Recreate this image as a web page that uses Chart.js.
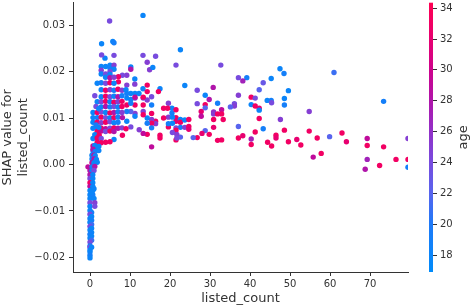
<!DOCTYPE html>
<html>
<head>
<meta charset="utf-8">
<script src="https://cdn.jsdelivr.net/npm/chart.js@4.4.0/dist/chart.umd.min.js"></script>
<style>
  html, body { margin: 0; padding: 0; background: #fff; }
</style>
</head>
<body>
<canvas id="shapChart" width="472" height="307"></canvas>
<script>
        // Data
        const listedCount = [
            22.6, 21.5, 32.7, 47.5, 48.5, 23.7, 37.1, 39.2, 38.2, 43.3,
            45.3, 49.6, 42.3, 26.8, 30.8, 28.8, 37.1, 29.8, 26.8, 31.9,
            40.3, 41.3, 44.3, 45.3, 45.4, 48.6, 48.6, 40.3, 41.3, 42.3,
            42.3, 36.1, 36.1, 35.1, 28.8, 28.8, 27.8, 27.8, 30.9, 30.9,
            31.9, 32.9, 32.9, 33.3, 30.9, 30.9, 28.8, 29.8, 28.0, 26.8,
            25.8, 31.9, 32.9, 37.1, 37.1, 38.2, 40.3, 40.3, 41.3, 43.3,
            42.3, 44.4, 45.4, 46.5, 46.5, 48.6, 47.6, 49.6, 61.0, 73.4,
            54.8, 51.7, 52.7, 54.8, 56.8, 57.8, 55.8, 59.9, 63.0, 64.1,
            69.3, 69.3, 69.3, 68.8, 72.4, 73.4, 76.5, 79.5, 79.5, 79.5,
            20.5, 20.5, 21.5, 21.5, 21.5, 22.6, 22.6, 23.7, 24.7, 22.6,
            23.7, 24.7, 24.7, 21.5, 21.5, 21.5, 22.6, 19.6, 19.4, 18.4,
            19.6, 18.4, 20.6, 19.6, 19.6, 20.6, 20.6, 21.7, 21.7, 17.5,
            17.5, 15.4, 16.4, 16.4, 15.4, 15.4, 15.4, 14.3, 14.3, 14.3,
            13.3, 12.3, 10.2, 9.2, 15.4, 13.3, 13.3, 11.25, 11.25, 10.2,
            9.2, 9.2, 15.4, 15.4, 14.3, 13.3, 13.3, 11.25, 11.25, 10.2,
            10.2, 9.2, 4.9, 13.25, 2.9, 5.7, 6.0, 3.75, 2.9, 6.0,
            13.25, 16.4, 14.3, 14.9, 15.7, 10.2, 10.2, 9.2, 8.1, 7.1,
            7.1, 11.2, 11.2, 14.3, 13.25, 14.3, 17.5, 17.1, 9.2, 11.25,
            12.25, 10.2, 9.2, 11.25, 13.3, 2.8, 3.9, 5.0, 5.0, 6.0,
            6.0, 2.8, 5.0, 2.8, 3.9, 5.0, 3.9, 5.0, 6.0, 1.8,
            2.8, 3.9, 5.0, 6.0, 2.8, 3.9, 5.0, 6.0, 7.0, 8.0,
            9.0, 1.2, 2.8, 3.9, 5.0, 6.0, 7.0, 8.0, 1.8, 2.8,
            3.9, 5.0, 6.0, 7.0, 8.0, 1.5, 2.8, 3.9, 5.0, 6.0,
            7.0, 8.0, 0.75, 1.8, 2.8, 3.9, 5.0, 6.0, 7.0, 8.0,
            0.75, 1.8, 2.8, 3.9, 5.0, 6.0, 7.0, 8.1, 0.75, 1.8,
            2.8, 3.9, 5.0, 6.0, 7.0, 0.75, 1.8, 2.8, 3.9, 5.0,
            6.0, 7.0, 8.0, 9.0, 1.8, 2.8, 3.9, 5.0, 6.0, 8.1,
            1.2, 2.3, 0.75, 1.8, 2.8, 6.0, 1.8, 2.8, 3.9, 5.0,
            0.75, 1.2, 1.8, 0.75, 0.75, 1.3, 0.5, 1.0, 1.3, 0.5,
            1.0, 1.6, 0.5, 1.0, 1.8, -0.5, 0.5, 1.2, 0.0, 0.5,
            1.0, 0.0, 0.7, 0.0, 0.7, 0.0, 0.7, 0.0, 0.7, 0.0,
            0.7, 1.0, 0.0, 0.7, 0.0, 1.0, 0.0, 1.2, 0.0, 1.2,
            0.0, 0.4, 0.0, 0.4, 0.0, 0.4, 0.0, 0.4, 0.0, 0.4,
            0.0, 0.4, 0.0, 0.4, 0.0, 0.4, 0.0, 0.0, 0.0, 0.0,
            0.0, 0.0, 0.0, 0.4, 0.4, 2.2, 2.2, 2.2, 1.5, 2.2
        ];
        const shapValue = [
            0.0247, 0.0214, 0.0214, 0.0206, 0.0196, 0.0170, 0.0187, 0.0187, 0.0180, 0.0176,
            0.0185, 0.0159, 0.0161, 0.0160, 0.0166, 0.0149, 0.0149, 0.0140, 0.0131, 0.0132,
            0.0145, 0.0143, 0.0138, 0.0138, 0.0133, 0.0142, 0.0128, 0.0129, 0.0126, 0.0121,
            0.0117, 0.0131, 0.0126, 0.0124, 0.0129, 0.0122, 0.0114, 0.0104, 0.0113, 0.0109,
            0.0109, 0.0118, 0.0109, 0.0097, 0.0097, 0.0080, 0.0073, 0.0065, 0.0067, 0.0058,
            0.0058, 0.0052, 0.0053, 0.0082, 0.0057, 0.0062, 0.0055, 0.0043, 0.0070, 0.0077,
            0.0099, 0.0048, 0.0040, 0.0063, 0.0057, 0.0074, 0.0097, 0.0049, 0.0198, 0.0136,
            0.0114, 0.0054, 0.0042, 0.0072, 0.0057, 0.0024, 0.0016, 0.0060, 0.0068, 0.0049,
            0.0056, 0.0041, 0.0011, -0.0010, -0.0002, 0.0038, 0.0011, 0.0056, 0.0011, -0.0006,
            0.0121, 0.0111, 0.0118, 0.0101, 0.0093, 0.0097, 0.0091, 0.0096, 0.0097, 0.0080,
            0.0080, 0.0082, 0.0076, 0.0079, 0.0074, 0.0053, 0.0059, 0.0132, 0.0121, 0.0121,
            0.0102, 0.0100, 0.0102, 0.0081, 0.0088, 0.0089, 0.0069, 0.0065, 0.0057, 0.0063,
            0.0057, 0.0038, 0.0093, 0.0088, 0.0097, 0.0089, 0.0079, 0.0100, 0.0089, 0.0065,
            0.0067, 0.0075, 0.0081, 0.0093, 0.0110, 0.0114, 0.0107, 0.0110, 0.0104, 0.0114,
            0.0114, 0.0128, 0.0146, 0.0128, 0.0139, 0.0143, 0.0128, 0.0143, 0.0128, 0.0140,
            0.0132, 0.0143, 0.0309, 0.0321, 0.0260, 0.0265, 0.0262, 0.0229, 0.0236, 0.0235,
            0.0235, 0.0233, 0.0220, 0.0204, 0.0209, 0.0210, 0.0205, 0.0192, 0.0192, 0.0189,
            0.0178, 0.0184, 0.0173, 0.0171, 0.0163, 0.0157, 0.0163, 0.0157, 0.0171, 0.0153,
            0.0153, 0.0153, 0.0153, 0.0145, 0.0145, 0.0211, 0.0211, 0.0214, 0.0207, 0.0214,
            0.0205, 0.0203, 0.0200, 0.0195, 0.0195, 0.0194, 0.0188, 0.0187, 0.0188, 0.0175,
            0.0176, 0.0175, 0.0176, 0.0175, 0.0161, 0.0160, 0.0161, 0.0160, 0.0162, 0.0160,
            0.0161, 0.0148, 0.0146, 0.0147, 0.0146, 0.0147, 0.0146, 0.0148, 0.0135, 0.0135,
            0.0136, 0.0135, 0.0134, 0.0135, 0.0136, 0.0125, 0.0124, 0.0125, 0.0124, 0.0125,
            0.0124, 0.0125, 0.0112, 0.0112, 0.0113, 0.0112, 0.0111, 0.0112, 0.0113, 0.0112,
            0.0101, 0.0101, 0.0102, 0.0101, 0.0100, 0.0101, 0.0102, 0.0101, 0.0091, 0.0091,
            0.0090, 0.0091, 0.0092, 0.0090, 0.0091, 0.0078, 0.0079, 0.0078, 0.0077, 0.0078,
            0.0079, 0.0078, 0.0079, 0.0077, 0.0071, 0.0072, 0.0071, 0.0072, 0.0071, 0.0063,
            0.0064, 0.0063, 0.0056, 0.0057, 0.0056, 0.0054, 0.0048, 0.0047, 0.0048, 0.0049,
            0.0040, 0.0041, 0.0036, 0.0029, 0.0033, 0.0028, 0.0020, 0.0020, 0.0019, 0.0012,
            0.0012, 0.0011, 0.0004, 0.0004, 0.0005, -0.0005, -0.0005, -0.0004, -0.0013, -0.0013,
            -0.0013, -0.0022, -0.0022, -0.0030, -0.0030, -0.0039, -0.0039, -0.0047, -0.0047, -0.0056,
            -0.0056, -0.0052, -0.0065, -0.0065, -0.0073, -0.0073, -0.0082, -0.0082, -0.0090, -0.0090,
            -0.0099, -0.0103, -0.0107, -0.0112, -0.0116, -0.0120, -0.0124, -0.0129, -0.0133, -0.0137,
            -0.0141, -0.0146, -0.0150, -0.0154, -0.0158, -0.0163, -0.0167, -0.0175, -0.0178, -0.0184,
            -0.0188, -0.0195, -0.0201, -0.0178, -0.0060, 0.0030, 0.0039, 0.0080, 0.0085, 0.0120
        ];
        const age = [
            18, 24, 24, 18, 19, 18, 24, 19, 27, 23,
            18, 18, 22, 24, 28, 18, 25, 28, 24, 19,
            33, 24, 18, 19, 24, 18, 19, 18, 33, 32,
            18, 24, 25, 22, 33, 22, 32, 29, 26, 25,
            33, 29, 33, 33, 33, 32, 22, 33, 32, 33,
            22, 33, 33, 22, 33, 32, 27, 33, 33, 19,
            33, 33, 33, 33, 32, 33, 25, 33, 21, 19,
            25, 32, 33, 33, 33, 33, 29, 22, 33, 32,
            29, 33, 27, 28, 33, 33, 33, 25, 33, 19,
            18, 19, 33, 33, 32, 18, 33, 18, 33, 19,
            25, 33, 32, 24, 33, 33, 22, 25, 33, 33,
            25, 33, 18, 33, 19, 18, 24, 25, 24, 33,
            33, 29, 33, 25, 25, 33, 19, 18, 19, 33,
            29, 25, 24, 18, 33, 25, 33, 25, 18, 22,
            19, 33, 24, 19, 25, 24, 33, 25, 33, 18,
            19, 18, 24, 18, 18, 18, 19, 18, 24, 24,
            24, 24, 25, 25, 18, 18, 28, 25, 24, 33,
            33, 18, 25, 33, 18, 33, 18, 33, 25, 18,
            18, 18, 19, 29, 33, 18, 18, 18, 19, 25,
            18, 25, 24, 18, 24, 18, 18, 28, 25, 18,
            19, 24, 33, 18, 18, 33, 25, 19, 33, 25,
            18, 24, 18, 33, 24, 18, 28, 19, 18, 24,
            33, 18, 33, 25, 33, 24, 18, 28, 19, 24,
            18, 33, 18, 33, 24, 18, 33, 28, 19, 25,
            18, 19, 33, 24, 18, 33, 19, 28, 18, 33,
            25, 33, 24, 18, 19, 18, 19, 33, 29, 24,
            33, 28, 25, 33, 33, 29, 24, 33, 28, 33,
            18, 33, 18, 33, 24, 18, 33, 33, 33, 33,
            29, 18, 18, 18, 28, 19, 18, 29, 18, 18,
            28, 18, 29, 18, 18, 29, 18, 28, 28, 18,
            24, 28, 18, 24, 18, 33, 18, 29, 18, 18,
            18, 18, 18, 19, 18, 18, 24, 25, 18, 24,
            18, 19, 24, 18, 18, 19, 18, 21, 24, 18,
            18, 18, 19, 18, 18, 21, 24, 18, 24, 18,
            18, 19, 18, 18, 18, 18, 18, 18, 19, 18
        ];

        // Axis ticks and ranges
        const xTicks = [0, 10, 20, 30, 40, 50, 60, 70];
        const yTicks = [-0.02, -0.01, 0.00, 0.01, 0.02, 0.03];
        const ageTicks = [18, 20, 22, 24, 26, 28, 30, 32, 34];
        const ageMin = 16.9, ageMax = 34.32;

        // SHAP red-blue colour map stops (age -> rgb)
        const cmapStops = [
            [16.9, [0, 139, 250]],
            [20, [30, 122, 248]],
            [22, [88, 100, 238]],
            [24, [120, 75, 222]],
            [26, [146, 48, 200]],
            [28, [176, 20, 170]],
            [30, [206, 2, 140]],
            [32, [232, 0, 112]],
            [34.32, [255, 0, 82]]
        ];

        function ageColor(a) {
            if (a <= cmapStops[0][0]) return `rgb(${cmapStops[0][1].join(',')})`;
            for (let i = 1; i < cmapStops.length; i++) {
                const [a1, c1] = cmapStops[i];
                const [a0, c0] = cmapStops[i - 1];
                if (a <= a1) {
                    const t = (a - a0) / (a1 - a0);
                    const c = c0.map((v, k) => Math.round(v + (c1[k] - v) * t));
                    return `rgb(${c.join(',')})`;
                }
            }
            return `rgb(${cmapStops[cmapStops.length - 1][1].join(',')})`;
        }

        const points = listedCount.map((x, i) => ({ x: x, y: shapValue[i] }));
        const pointColors = age.map(ageColor);

        const textColor = '#333333';
        const fontFamily = '"DejaVu Sans", sans-serif';

        // Colour bar drawn next to the plot
        const colorbarPlugin = {
            id: 'colorbar',
            afterDraw(chart) {
                const ctx = chart.ctx;
                const top = chart.chartArea.top;
                const bottom = chart.chartArea.bottom;
                const x0 = 429, w = 4;
                const toY = a => bottom - (a - ageMin) / (ageMax - ageMin) * (bottom - top);

                ctx.save();
                const grad = ctx.createLinearGradient(0, bottom, 0, top);
                cmapStops.forEach(([a, c]) => {
                    grad.addColorStop((a - ageMin) / (ageMax - ageMin), `rgb(${c.join(',')})`);
                });
                ctx.fillStyle = grad;
                ctx.fillRect(x0, top, w, bottom - top);

                ctx.strokeStyle = textColor;
                ctx.lineWidth = 1;
                ctx.fillStyle = textColor;
                ctx.font = `10px ${fontFamily}`;
                ctx.textAlign = 'left';
                ctx.textBaseline = 'middle';
                ageTicks.forEach(a => {
                    const y = Math.round(toY(a)) + 0.5;
                    ctx.beginPath();
                    ctx.moveTo(x0 + w, y);
                    ctx.lineTo(x0 + w + 4, y);
                    ctx.stroke();
                    ctx.fillText(String(a), x0 + w + 7, y);
                });

                ctx.translate(464, (top + bottom) / 2);
                ctx.rotate(-Math.PI / 2);
                ctx.font = `13px ${fontFamily}`;
                ctx.textAlign = 'center';
                ctx.fillText('age', 0, 0);
                ctx.restore();
            }
        };

        const ctx = document.getElementById('shapChart').getContext('2d');
        const shapChart = new Chart(ctx, {
            type: 'scatter',
            data: {
                datasets: [{
                    label: 'listed_count',
                    data: points,
                    backgroundColor: pointColors,
                    borderWidth: 0,
                    pointRadius: 2.7,
                    pointHoverRadius: 2.7,
                    clip: 0
                }]
            },
            options: {
                responsive: false,
                animation: false,
                devicePixelRatio: 1,
                layout: { padding: { left: 0, right: 64, top: 0, bottom: 0 } },
                plugins: {
                    legend: { display: false },
                    tooltip: { enabled: false }
                },
                scales: {
                    x: {
                        type: 'linear',
                        min: -4.25,
                        max: 79.5,
                        afterBuildTicks: scale => { scale.ticks = xTicks.map(v => ({ value: v })); },
                        afterFit: scale => {
                            scale.height = 35;
                            scale.paddingLeft = 0;
                            scale.paddingRight = 0;
                        },
                        grid: { drawOnChartArea: false, drawTicks: true, tickLength: 4, color: textColor },
                        border: { display: true, color: textColor, width: 1 },
                        ticks: {
                            color: textColor,
                            padding: 2,
                            maxRotation: 0,
                            font: { family: fontFamily, size: 10 }
                        },
                        title: {
                            display: true,
                            text: 'listed_count',
                            color: textColor,
                            padding: { top: 0, bottom: 1 },
                            font: { family: fontFamily, size: 13 }
                        }
                    },
                    y: {
                        type: 'linear',
                        min: -0.02313,
                        max: 0.03483,
                        afterBuildTicks: scale => { scale.ticks = yTicks.map(v => ({ value: v })); },
                        afterFit: scale => {
                            scale.width = 73;
                            scale.paddingTop = 0;
                            scale.paddingBottom = 0;
                        },
                        grid: { drawOnChartArea: false, drawTicks: true, tickLength: 4, color: textColor },
                        border: { display: true, color: textColor, width: 1 },
                        ticks: {
                            color: textColor,
                            padding: 4,
                            font: { family: fontFamily, size: 10 },
                            callback: v => (v < 0 ? '\u2212' : '') + Math.abs(v).toFixed(2)
                        },
                        title: {
                            display: true,
                            text: ['SHAP value for', 'listed_count'],
                            color: textColor,
                            padding: { top: 0, bottom: 0 },
                            font: { family: fontFamily, size: 13, lineHeight: 1.2 }
                        }
                    }
                }
            },
            plugins: [colorbarPlugin]
        });
</script>
</body>
</html>
